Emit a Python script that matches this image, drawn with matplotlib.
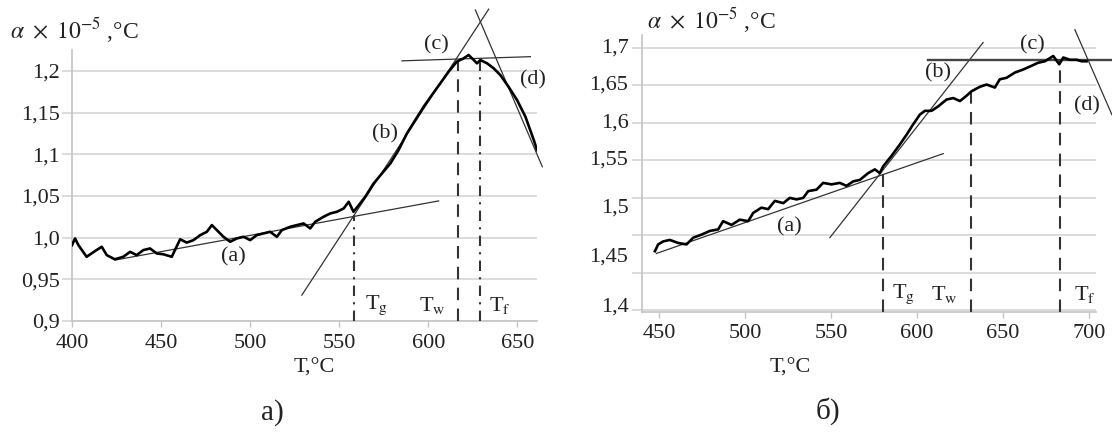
import matplotlib
matplotlib.use("Agg")
import matplotlib.pyplot as plt

plt.rcParams['font.family'] = ['Liberation Serif', 'DejaVu Serif']
plt.rcParams['mathtext.fontset'] = 'stix'

# ---- panel a) ----
a_T = [400, 401.7, 403.6, 408.2, 413, 416.7, 419.5, 424, 428.8, 432.6, 436.3, 440,
       443.8, 447.6, 451.3, 456, 458, 460.7, 464.4, 468.2, 472, 475.7, 478.5, 481.3,
       485, 488.8, 492.5, 496.3, 500, 503.7, 507.5, 511.2, 515, 517.8, 522.5, 526.2,
       530, 533.7, 536.5, 541.2, 545, 548.7, 552.5, 555.3, 558, 561, 564.6, 569.3,
       574, 578.7, 583.3, 588, 592.7, 597.4, 602, 606.7, 611.4, 616, 619.8, 622.6,
       625.5, 627.3, 629.2, 633, 636.7, 640.4, 645, 649.8, 654.5, 659.2, 661]
a_alpha = [0.991, 0.999, 0.991, 0.977, 0.984, 0.989, 0.979, 0.974, 0.977, 0.983, 0.979,
           0.985, 0.987, 0.981, 0.980, 0.977, 0.986, 0.998, 0.994, 0.997, 1.003, 1.007,
           1.015, 1.009, 1.001, 0.995, 0.999, 1.001, 0.997, 1.003, 1.005, 1.007, 1.001,
           1.009, 1.013, 1.015, 1.017, 1.011, 1.019, 1.025, 1.029, 1.031, 1.035, 1.043,
           1.031, 1.039, 1.049, 1.065, 1.077, 1.089, 1.105, 1.125, 1.141, 1.157, 1.171,
           1.185, 1.199, 1.211, 1.215, 1.219, 1.213, 1.209, 1.213, 1.209, 1.203, 1.195,
           1.181, 1.165, 1.145, 1.117, 1.105]
# tangent lines (x0, y0, x1, y1)
a_tangents = {
    'a': (424, 0.973, 605.8, 1.044),
    'b': (529, 0.931, 633.9, 1.274),
    'c': (585.2, 1.212, 657.3, 1.217),
    'd': (626.4, 1.273, 664, 1.085),
}
a_marks = {'g': (558.4, 1.027), 'w': (616.5, 1.211), 'f': (628.8, 1.212)}
a_labels = {'(a)': (490.4, 0.977), '(b)': (575.8, 1.125), '(c)': (604.5, 1.231), '(d)': (659, 1.189)}
a_tlab = {'g': 571, 'w': 602, 'f': 640}
a_yticks = [0.9, 0.95, 1.0, 1.05, 1.1, 1.15, 1.2]
a_yticklabels = ['0,9', '0,95', '1,0', '1,05', '1,1', '1,15', '1,2']
a_xticks = [400, 450, 500, 550, 600, 650]

# ---- panel б) ----
b_T = [447.5, 449.4, 452.3, 456.2, 461, 465.9, 469.8, 474.6, 479.5, 484.3, 487.2, 492.1,
       496.9, 501.8, 504.7, 509.5, 513.4, 517.3, 522.2, 526, 529.9, 533.8, 536.7, 541.6,
       545.4, 550.3, 555.1, 559, 562.9, 566.8, 571.6, 575.5, 578.4, 580.3, 585.2, 590,
       593.9, 597.8, 601.7, 604.6, 608.5, 612.4, 617.2, 621.1, 625, 628.8, 631.7, 636.6,
       640.5, 645.3, 648.2, 652.1, 657, 661.8, 666.7, 670.5, 674.4, 679.3, 682.8, 685.1,
       689, 692.9, 695.8, 698.7]
b_alpha = [1.429, 1.438, 1.442, 1.444, 1.440, 1.438, 1.447, 1.451, 1.456, 1.458, 1.469,
           1.464, 1.471, 1.469, 1.480, 1.487, 1.485, 1.496, 1.493, 1.500, 1.498, 1.500,
           1.509, 1.511, 1.520, 1.518, 1.520, 1.516, 1.522, 1.524, 1.533, 1.538, 1.533,
           1.542, 1.556, 1.571, 1.584, 1.598, 1.611, 1.616, 1.616, 1.622, 1.631, 1.633,
           1.629, 1.636, 1.642, 1.648, 1.651, 1.647, 1.658, 1.660, 1.667, 1.671, 1.676,
           1.680, 1.682, 1.689, 1.678, 1.687, 1.684, 1.684, 1.682, 1.682]
b_tangents = {
    'a': (448.4, 1.426, 615.3, 1.559),
    'b': (549.3, 1.447, 638.5, 1.707),
    'c': (606.5, 1.684, 714, 1.684),
    'd': (691.9, 1.724, 713.4, 1.611),
}
b_marks = {'g': (580.3, 1.533), 'w': (631.3, 1.642), 'f': (683.1, 1.682)}
b_labels = {'(a)': (526, 1.462), '(b)': (612.3, 1.667), '(c)': (667.2, 1.704), '(d)': (698.7, 1.623)}
b_tlab = {'g': 592, 'w': 616, 'f': 697.7}
b_grid = [1.35, 1.4, 1.45, 1.5, 1.55, 1.6, 1.65, 1.7]
b_ylabpos = [1.355, 1.421, 1.487, 1.55, 1.6, 1.65, 1.7]
b_yticklabels = ['1,4', '1,45', '1,5', '1,55', '1,6', '1,65', '1,7']
b_xticks = [450, 500, 550, 600, 650, 700]

W, H = 1112, 432
fig = plt.figure(figsize=(W / 100, H / 100), dpi=100)
ax1 = fig.add_axes([72 / W, 1 - 321 / H, 465 / W, 271 / H])
ax2 = fig.add_axes([642 / W, 1 - 312 / H, 453.7 / W, 277 / H])

grid_c = '#d6d6d6'
txt_c = '#222222'
fs = 16


def style(ax):
    for s in ['top', 'right']:
        ax.spines[s].set_visible(False)
    for s in ['left', 'bottom']:
        ax.spines[s].set_color('#c4c4c4')
        ax.spines[s].set_linewidth(1.2)
    ax.tick_params(axis='x', length=4, width=1, color='#c4c4c4', pad=5,
                   labelsize=fs, labelcolor=txt_c)
    ax.tick_params(axis='y', which='major', length=7, width=1.2, color=grid_c, pad=2,
                   labelsize=fs, labelcolor=txt_c)
    ax.grid(axis='y', which='major', color=grid_c, linewidth=1.2)
    ax.set_axisbelow(True)


def draw(ax, T, alpha, tangents, marks, labels, tlab, ybot, ytext):
    ax.plot(T, alpha, color='black', lw=1.9, zorder=4)
    for k, (x0, y0, x1, y1) in tangents.items():
        thick = (k == 'c' and ax is ax2)
        ax.plot([x0, x1], [y0, y1], color='#444444' if thick else '#333333',
                lw=1.7 if thick else 0.9, clip_on=False, zorder=3)
    for k, (x, y) in marks.items():
        ls = (0, (5, 3, 1, 3)) if (k != 'w' and ax is ax1) else (0, (6, 4))
        ax.plot([x, x], [ybot, y], color='#333333', lw=1.5, ls=ls, zorder=3)
    for t, (x, y) in labels.items():
        ax.text(x, y, t, fontsize=fs, color=txt_c, ha='center', va='center', zorder=5)
    for k, x in tlab.items():
        ax.text(x, ytext, r'T$_{\mathrm{' + k + '}}$', fontsize=fs, color=txt_c,
                ha='center', va='center', clip_on=False)


style(ax1)
ax1.set_xlim(400, 661)
ax1.set_ylim(0.9, 1.225)
ax1.set_xticks(a_xticks)
ax1.set_yticks(a_yticks)
ax1.set_yticklabels(a_yticklabels)
draw(ax1, a_T, a_alpha, a_tangents, a_marks, a_labels, a_tlab, 0.9, 0.919)

style(ax2)
ax2.set_xlim(440, 704)
ax2.set_ylim(1.348, 1.717)
ax2.set_xticks(b_xticks)
ax2.set_yticks(b_grid)
ax2.set_yticklabels([])
for v, lab in zip(b_ylabpos, b_yticklabels):
    ax2.text(-0.03, v, lab, transform=ax2.get_yaxis_transform(), fontsize=fs,
             color=txt_c, ha='right', va='center')
draw(ax2, b_T, b_alpha, b_tangents, b_marks, b_labels, b_tlab, 1.348, 1.371)

ylab = r'$\alpha\ \times\ 10^{-5}$ ,°C'
fig.text(10 / W, 1 - 30 / H, ylab, fontsize=17, color=txt_c, ha='left', va='center')
fig.text(647 / W, 1 - 20 / H, ylab, fontsize=17, color=txt_c, ha='left', va='center')
fig.text(314 / W, 1 - 368 / H, 'T,°C', fontsize=fs, color=txt_c, ha='center', va='center')
fig.text(790 / W, 1 - 368 / H, 'T,°C', fontsize=fs, color=txt_c, ha='center', va='center')
fig.text(272 / W, 1 - 413 / H, 'a)', fontsize=21, color=txt_c, ha='center', va='center')
fig.text(828 / W, 1 - 411 / H, 'б)', fontsize=21, color=txt_c, ha='center', va='center')

fig.savefig('out.png', dpi=100)
